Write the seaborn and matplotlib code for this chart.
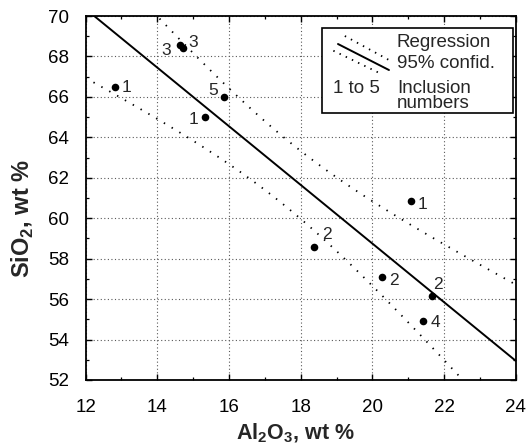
import numpy as np
import pandas as pd
import matplotlib
matplotlib.use("Agg")
import matplotlib.pyplot as plt
import seaborn as sns

# ---- data ----
al2o3 = [12.82, 14.63, 14.71, 15.87, 15.33, 21.07, 18.37, 20.27, 21.65, 21.42]
sio2 = [66.47, 68.57, 68.40, 66.01, 64.99, 60.87, 58.59, 57.11, 56.15, 54.92]
incl = ["1", "3", "3", "5", "1", "1", "2", "2", "2", "4"]
x_ticks = [12, 14, 16, 18, 20, 22, 24]
y_ticks = [52, 54, 56, 58, 60, 62, 64, 66, 68, 70]
T95 = 2.306  # Student t, 95 %, df = n - 2 = 8

# label placement (pixel offsets from each point)
lab_dx = [12, -14, 10, -11, -11, 12, 13, 12, 6, 12]
lab_dy = [0, -6, 6, 6, -2, -4, 12, -4, 12, -2]

df = pd.DataFrame({"Al2O3": al2o3, "SiO2": sio2, "n": incl})

sns.set_style("ticks")
plt.rcParams["font.family"] = ["Liberation Sans", "DejaVu Sans"]
plt.rcParams["mathtext.fontset"] = "custom"
plt.rcParams["mathtext.rm"] = "Liberation Sans"
plt.rcParams["mathtext.bf"] = "Liberation Sans:bold"

fig = plt.figure(figsize=(5.26, 4.46), dpi=100)
ax = fig.add_axes([0.1627, 0.148, 0.8179, 0.8161])
ax.set_xlim(12, 24)
ax.set_ylim(52, 70)

# grid
ax.set_xticks(x_ticks)
ax.set_yticks(y_ticks)
ax.set_xticks(np.arange(13, 24, 2), minor=True)
ax.set_yticks(np.arange(53, 70, 2), minor=True)
ax.grid(True, which="major", color="0.35", lw=0.8, ls=(0, (1, 2.2)))
ax.set_axisbelow(True)

# regression line (extended to axis limits)
sns.regplot(data=df, x="Al2O3", y="SiO2", ax=ax, scatter=False, ci=None,
            truncate=False, color="black", line_kws=dict(lw=1.4, zorder=3))

# 95 % confidence band of the regression
xa = np.asarray(al2o3); ya = np.asarray(sio2)
n = len(xa)
b, a = np.polyfit(xa, ya, 1)
resid = ya - (a + b * xa)
s = np.sqrt(np.sum(resid ** 2) / (n - 2))
sxx = np.sum((xa - xa.mean()) ** 2)
xg = np.linspace(12.0, 24.0, 200)
yfit = a + b * xg
half = T95 * s * np.sqrt(1.0 / n + (xg - xa.mean()) ** 2 / sxx)
band = pd.DataFrame({"x": np.concatenate([xg, xg]),
                     "y": np.concatenate([yfit + half, yfit - half]),
                     "side": ["up"] * len(xg) + ["lo"] * len(xg)})
for side in ["up", "lo"]:
    sub = band[band["side"] == side]
    sns.lineplot(data=sub, x="x", y="y", ax=ax, color="black", lw=1.3,
                 ls=(0, (0.8, 4.2)), estimator=None, sort=False, zorder=3)

# points
sns.scatterplot(data=df, x="Al2O3", y="SiO2", ax=ax, color="black", s=30,
                edgecolor="black", linewidth=0, zorder=4)

for xi, yi, t, dx, dy in zip(al2o3, sio2, incl, lab_dx, lab_dy):
    ax.annotate(t, (xi, yi), xytext=(dx, dy), textcoords="offset pixels",
                ha="center", va="center", fontsize=12.5, zorder=5)

# legend box drawn by hand
ax.add_patch(plt.Rectangle((0.549, 0.733), 0.445, 0.233, transform=ax.transAxes,
                           facecolor="white", edgecolor="black", lw=1.2, zorder=6))
ax.plot([0.5867, 0.7052], [0.9231, 0.8516], transform=ax.transAxes,
        color="black", lw=1.4, zorder=7)
ax.plot([0.6026, 0.7052], [0.9451, 0.8791], transform=ax.transAxes,
        color="black", lw=1.3, ls=(0, (0.8, 3.0)), zorder=7)
ax.plot([0.5759, 0.6829], [0.9047, 0.8434], transform=ax.transAxes,
        color="black", lw=1.3, ls=(0, (0.8, 3.0)), zorder=7)
tk = dict(transform=ax.transAxes, fontsize=13.5, va="baseline", ha="left", zorder=8)
ax.text(0.7237, 0.914, "Regression", **tk)
ax.text(0.7237, 0.856, "95% confid.", **tk)
ax.text(0.5760, 0.788, "1 to 5", **tk)
ax.text(0.7237, 0.788, "Inclusion", **tk)
ax.text(0.7237, 0.746, "numbers", **tk)

# axes styling
for sp in ax.spines.values():
    sp.set_visible(True)
    sp.set_color("black")
    sp.set_linewidth(1.3)
ax.tick_params(which="both", direction="in", top=True, right=True, colors="black")
ax.tick_params(which="major", length=4, width=1.0, labelsize=13.5)
ax.tick_params(axis="x", which="major", pad=14)
ax.tick_params(axis="y", which="major", pad=12)
ax.tick_params(which="minor", length=2.3, width=0.9)
ax.set_xticklabels([str(v) for v in x_ticks])
ax.set_yticklabels([str(v) for v in y_ticks])

ax.set_xlabel(r"Al$_\mathbf{2}$O$_\mathbf{3}$, wt %", fontsize=15.5, fontweight="bold")
ax.set_ylabel(r"SiO$_\mathbf{2}$, wt %", fontsize=17, fontweight="bold")
ax.xaxis.label.set_va("baseline")
ax.yaxis.label.set_va("center")
ax.xaxis.set_label_coords(0.487, -0.164)
ax.yaxis.set_label_coords(-0.145, 0.445)

fig.savefig("out.png", dpi=100)
